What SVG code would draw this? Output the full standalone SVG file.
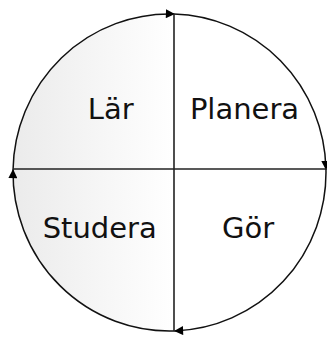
<svg xmlns="http://www.w3.org/2000/svg" width="327" height="338" viewBox="0 0 327 338">
  <style>
    .arc { fill: none; stroke: #111; stroke-width: 1.5; marker-end: url(#arrow); }
    .axis { stroke: #222; stroke-width: 1.6; fill: none; }
    .lbl { font-family: "DejaVu Sans", Verdana, sans-serif; font-size: 29px; fill: #111; text-anchor: middle; }
  </style>
  <defs>
    <marker id="arrow" viewBox="0 0 10 10" refX="9" refY="5" markerWidth="10" markerHeight="9" markerUnits="userSpaceOnUse" orient="auto">
      <path d="M0,0 L10,5 L0,10 Z" fill="#000"/>
    </marker>
    <linearGradient id="shade" x1="13" y1="0" x2="174" y2="0" gradientUnits="userSpaceOnUse">
      <stop offset="0" stop-color="#ebebeb"/>
      <stop offset="1" stop-color="#ffffff"/>
    </linearGradient>
    <clipPath id="leftHalf">
      <rect x="0" y="0" width="174" height="338"/>
    </clipPath>
  </defs>
  <rect x="0" y="0" width="327" height="338" fill="#fff"/>
  <ellipse cx="169.5" cy="172.5" rx="156.5" ry="158.5" fill="url(#shade)" clip-path="url(#leftHalf)"/>
  <g id="connectors">
    <path class="arc" d="M13.02,170 A156.5,158.5 0 0 1 174,14.07"/>
    <path class="arc" d="M174,14.07 A156.5,158.5 0 0 1 325.96,169"/>
    <path class="arc" d="M325.96,169 A156.5,158.5 0 0 1 175,330.9"/>
    <path class="arc" d="M175,330.9 A156.5,158.5 0 0 1 13.02,170"/>
    <line class="axis" x1="174" y1="14" x2="174" y2="331"/>
    <line class="axis" x1="13" y1="169" x2="327" y2="169"/>
  </g>
  <g id="lar"><text class="lbl" x="110.7" y="119.3">Lär</text></g>
  <g id="planera"><text class="lbl" x="244.5" y="119.3">Planera</text></g>
  <g id="studera"><text class="lbl" x="99.7" y="238.3">Studera</text></g>
  <g id="gor"><text class="lbl" x="248" y="238.3">Gör</text></g>
</svg>
